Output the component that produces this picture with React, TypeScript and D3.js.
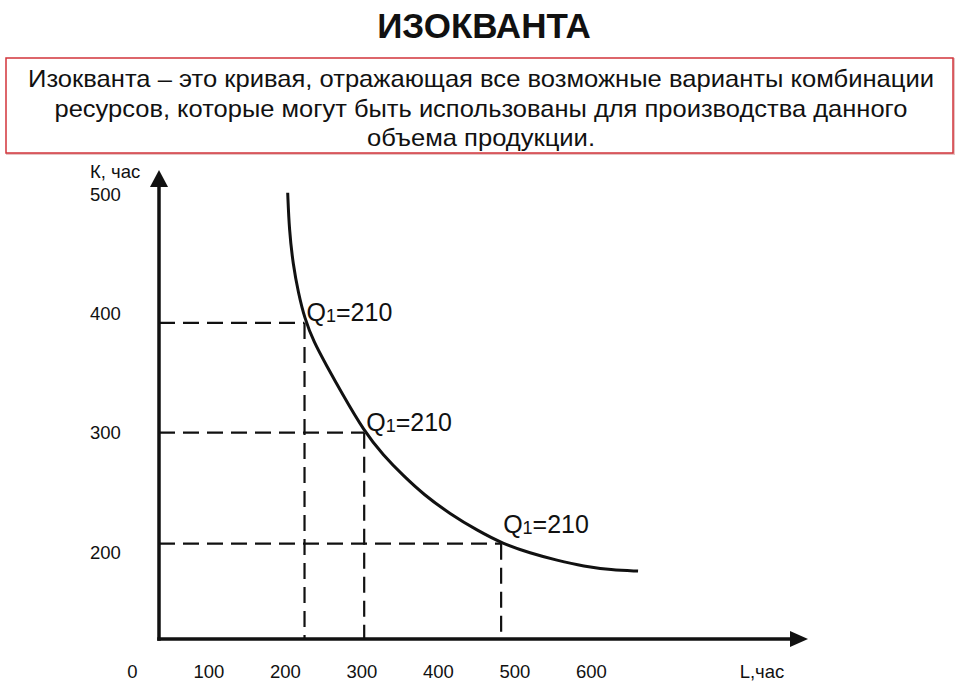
import * as d3 from 'd3';

// tick labels as printed on the diagram
const xTicks = [0, 100, 200, 300, 400, 500, 600];
const yTicks = [200, 300, 400, 500];

// isoquant (L, K)
const curveL = [203, 205, 210, 217, 225, 237, 254, 273, 303, 328, 354, 381, 415, 451, 484, 520, 555, 590, 626, 661];
const curveK = [501, 470, 441, 417, 396, 376, 356, 334, 301, 281, 264, 248, 232, 218, 207, 199, 193, 188, 185, 184];

// marked combinations, each Q1 = 210
const pointL = [225, 303, 482];
const pointK = [392, 300, 207];
const pointLabel = ['210', '210', '210'];

const descLines = [
  'Изокванта – это кривая, отражающая все возможные варианты комбинации',
  'ресурсов, которые могут быть использованы для производства данного',
  'объема продукции.',
];

const width = 960;
const height = 691;
const font = '"Liberation Sans", Arial, sans-serif';

const App = () => {
  const x = d3.scaleLinear().domain([0, 600]).range([132.4, 591.4]);
  const y = d3.scaleLinear().domain([200, 500]).range([552, 194]);

  const axisLeft = 159;
  const axisBottom = 639;

  const pts: [number, number][] = curveL.map((l, i) => [l, curveK[i]]);
  const line = d3
    .line<[number, number]>()
    .x(d => x(d[0]))
    .y(d => y(d[1]))
    .curve(d3.curveBasis);

  const descWidths = [906, 853, 228];

  return (
    <svg
      width={width}
      height={height}
      viewBox={`0 0 ${width} ${height}`}
      style={{ position: 'absolute', left: 0, top: 0, background: '#fff' }}
      fontFamily={font}
    >
      <rect width={width} height={height} fill="#fff" />
      <text x={484} y={38} textAnchor="middle" fontSize={35} fontWeight="bold" fill="#111">
        ИЗОКВАНТА
      </text>

      <rect x={7} y={59} width={947} height={95} fill="none" stroke="#e6c4c4" strokeWidth={2} />
      <rect x={6} y={58} width={947} height={95} fill="#fff" stroke="#d2353b" strokeWidth={1.5} />
      {descLines.map((t, i) => (
        <text
          key={i}
          x={481}
          y={87 + i * 29.5}
          textAnchor="middle"
          fontSize={24}
          fill="#111"
          textLength={descWidths[i]}
          lengthAdjust="spacingAndGlyphs"
        >
          {t}
        </text>
      ))}

      {/* dashed guides */}
      {pointL.map((l, i) => (
        <g key={i} stroke="#111" strokeWidth={2.2} strokeDasharray="16 8" fill="none">
          <line x1={axisLeft} x2={x(l)} y1={y(pointK[i])} y2={y(pointK[i])} />
          <line x1={x(l)} x2={x(l)} y1={y(pointK[i])} y2={axisBottom} />
        </g>
      ))}

      {/* axes */}
      <line x1={axisLeft} x2={axisLeft} y1={axisBottom + 1.75} y2={184} stroke="#111" strokeWidth={3.5} />
      <path d={`M${axisLeft},170 L${axisLeft - 9},187 L${axisLeft + 9},187 Z`} fill="#111" />
      <line x1={axisLeft - 1.75} x2={793} y1={axisBottom} y2={axisBottom} stroke="#111" strokeWidth={3.5} />
      <path d={`M808,${axisBottom} L790,${axisBottom - 8} L790,${axisBottom + 8} Z`} fill="#111" />

      {/* isoquant */}
      <path d={line(pts) || ''} fill="none" stroke="#111" strokeWidth={3} />

      {pointL.map((l, i) => (
        <text key={i} x={x(l) + 2} y={y(pointK[i]) - 2 - (i === 2 ? 9 : 0)} fontSize={25} fill="#111">
          Q
          <tspan fontSize={18} dy={1}>1</tspan>
          <tspan dy={-1}>={pointLabel[i]}</tspan>
        </text>
      ))}

      {/* tick labels */}
      {xTicks.map(t => (
        <text key={t} x={x(t)} y={678} textAnchor="middle" fontSize={18.5} fill="#111">
          {t}
        </text>
      ))}
      <text x={762} y={678} textAnchor="middle" fontSize={18.5} fill="#111">
        L,час
      </text>
      {yTicks.map(t => (
        <text key={t} x={90} y={y(t) + 6.5} fontSize={18.5} fill="#111">
          {t}
        </text>
      ))}
      <text x={90} y={177.5} fontSize={18.5} fill="#111">
        К, час
      </text>
    </svg>
  );
};

export default App;
